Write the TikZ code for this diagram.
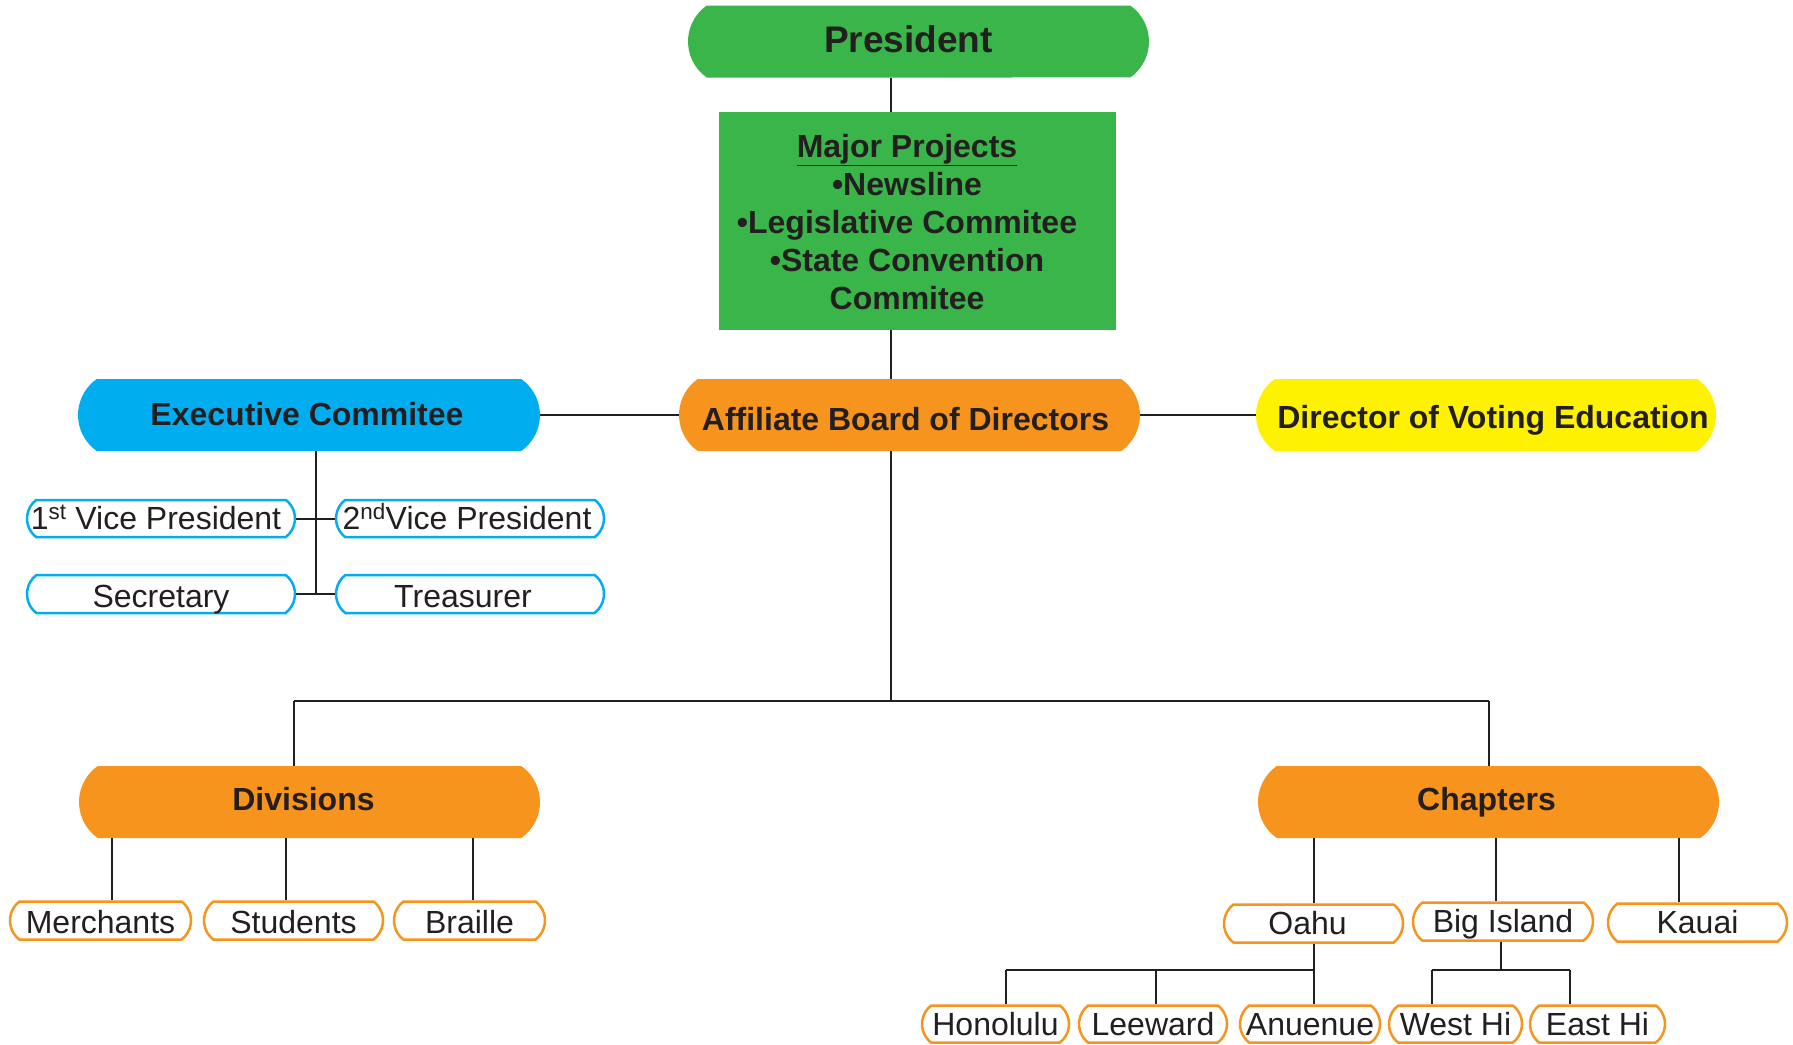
\documentclass[tikz,border=0pt]{standalone}
\usepackage{fontspec}
\usetikzlibrary{shapes.misc}
\setmainfont{Liberation Sans}
\definecolor{txt}{HTML}{231F20}
\definecolor{grn}{HTML}{39B54A}
\definecolor{blu}{HTML}{00AEEF}
\definecolor{yel}{HTML}{FFF200}
\definecolor{org}{HTML}{F7941D}
\tikzset{
  bigbox/.style={rounded rectangle, rounded rectangle arc length=110, minimum height=72pt,
    inner sep=0pt, text=txt, text height=20pt, text depth=0pt,
    font=\bfseries\fontsize{32}{38}\selectfont},
  smallbox/.style={rounded rectangle, rounded rectangle arc length=105, draw=#1, line width=2.5pt,
    fill=white, minimum height=38pt, inner sep=0pt, text=txt, text height=23pt, text depth=0pt,
    font=\fontsize{32}{38}\selectfont},
  conn/.style={line width=2pt, draw=txt}
}
\begin{document}
\begin{tikzpicture}[x=1pt,y=-1pt]
\useasboundingbox (0,0) rectangle (1793,1044);
% main column
\node[bigbox, fill=grn, minimum width=461pt, text height=21pt, font=\bfseries\fontsize{37}{40}\selectfont] (pres) at (918.5,41.5) {\hspace*{-20pt}President};
\node[fill=grn, minimum width=397pt, minimum height=218pt, inner sep=0pt] (proj) at (917.5,221) {};
\node[text=txt, align=center, font=\bfseries\fontsize{32}{38.2}\selectfont, inner sep=0pt] (projtxt) at (907,222)
  {\underline{Major Projects}\\•Newsline\\•Legislative Commitee\\•State Convention\\Commitee};
\node[bigbox, fill=org, minimum width=461pt, text height=30pt] (abd) at (909.5,415) {\hspace*{-8pt}Affiliate Board of Directors};
\node[bigbox, fill=blu, minimum width=462pt] (exec) at (309,415) {\hspace*{-4pt}Executive Commitee};
\node[bigbox, fill=yel, minimum width=460pt, text height=26pt] (dir) at (1486,415) {\hspace*{14pt}Director of Voting Education};
\coordinate (spine) at (891,0);
\draw[conn] (pres.south -| spine) -- (proj.north -| spine);
\draw[conn] (proj.south -| spine) -- (abd.north -| spine);
\draw[conn] (exec.east) -- (abd.west);
\draw[conn] (abd.east) -- (dir.west);
% executive committee
\node[smallbox=blu, minimum width=268pt, minimum height=37pt, text height=21pt] (vp1) at (161,518.5) {\hspace*{-10pt}1\textsuperscript{st} Vice President};
\node[smallbox=blu, minimum width=268pt, minimum height=37pt, text height=21pt] (vp2) at (470,518.5) {\hspace*{-6pt}2\textsuperscript{nd}Vice President};
\node[smallbox=blu, minimum width=268pt, minimum height=38pt, text height=26pt] (sec) at (161,594) {Secretary};
\node[smallbox=blu, minimum width=268pt, minimum height=38pt, text height=26pt] (tre) at (470,594) {\hspace*{-14pt}Treasurer};
\coordinate (ex) at (316,0);
\draw[conn] (exec.south -| ex) -- (sec.east -| ex);
\draw[conn] (vp1.east) -- (vp2.west);
\draw[conn] (sec.east) -- (tre.west);
% bus
\coordinate (bus) at (891,701);
\coordinate (busl) at (294,701);
\coordinate (busr) at (1489,701);
\node[bigbox, fill=org, minimum width=461pt, text height=17pt] (div) at (309.5,802) {\hspace*{-12pt}Divisions};
\node[bigbox, fill=org, minimum width=461pt, text height=17pt] (chap) at (1488.5,802) {\hspace*{-4pt}Chapters};
\draw[conn] (abd.south -| spine) -- (bus);
\draw[conn] (busl) -- (busr);
\draw[conn] (busl) -- (div.north -| busl);
\draw[conn] (busr) -- (chap.north -| busr);
% divisions
\node[smallbox=org, minimum width=181pt, minimum height=38pt, text height=25pt] (mer) at (100.5,920.5) {Merchants};
\node[smallbox=org, minimum width=179pt, minimum height=38pt, text height=25pt] (stu) at (293.5,920.5) {Students};
\node[smallbox=org, minimum width=151pt, minimum height=38pt, text height=25pt] (bra) at (469.5,920.5) {Braille};
\coordinate (d1) at (112,0);
\coordinate (d2) at (286,0);
\coordinate (d3) at (473,0);
\draw[conn] (div.south -| d1) -- (mer.north -| d1);
\draw[conn] (div.south -| d2) -- (stu.north -| d2);
\draw[conn] (div.south -| d3) -- (bra.north -| d3);
% chapters
\node[smallbox=org, minimum width=179pt, minimum height=38pt, text height=21pt] (oahu) at (1313.5,923.5) {\hspace*{-12pt}Oahu};
\node[smallbox=org, minimum width=180pt, minimum height=38pt, text height=21pt] (big) at (1503,921.5) {Big Island};
\node[smallbox=org, minimum width=179pt, minimum height=38pt, text height=21pt] (kau) at (1697.5,922.5) {Kauai};
\coordinate (c1) at (1314,0);
\coordinate (c2) at (1496,0);
\coordinate (c2b) at (1501,0);
\coordinate (c3) at (1679,0);
\draw[conn] (chap.south -| c1) -- (oahu.north -| c1);
\draw[conn] (chap.south -| c2) -- (big.north -| c2);
\draw[conn] (chap.south -| c3) -- (kau.north -| c3);
% islands
\node[smallbox=org, minimum width=147pt, minimum height=37pt, text height=22pt] (hon) at (995.5,1024) {Honolulu};
\node[smallbox=org, minimum width=148pt, minimum height=37pt, text height=22pt] (lee) at (1153,1024) {Leeward};
\node[smallbox=org, minimum width=140pt, minimum height=37pt, text height=22pt] (anu) at (1310,1024) {Anuenue};
\node[smallbox=org, minimum width=133pt, minimum height=37pt, text height=22pt] (west) at (1455.5,1024) {West Hi};
\node[smallbox=org, minimum width=135pt, minimum height=37pt, text height=22pt] (east) at (1597.5,1024) {East Hi};
\coordinate (h0) at (0,970);
\coordinate (o1) at (1006,0);
\coordinate (o2) at (1156,0);
\coordinate (b1) at (1432,0);
\coordinate (b2) at (1570,0);
\draw[conn] (oahu.south -| c1) -- (anu.north -| c1);
\draw[conn] (o1 |- h0) -- (c1 |- h0);
\draw[conn] (o1 |- h0) -- (hon.north -| o1);
\draw[conn] (o2 |- h0) -- (lee.north -| o2);
\draw[conn] (big.south -| c2b) -- (c2b |- h0);
\draw[conn] (b1 |- h0) -- (b2 |- h0);
\draw[conn] (b1 |- h0) -- (west.north -| b1);
\draw[conn] (b2 |- h0) -- (east.north -| b2);
\end{tikzpicture}
\end{document}
